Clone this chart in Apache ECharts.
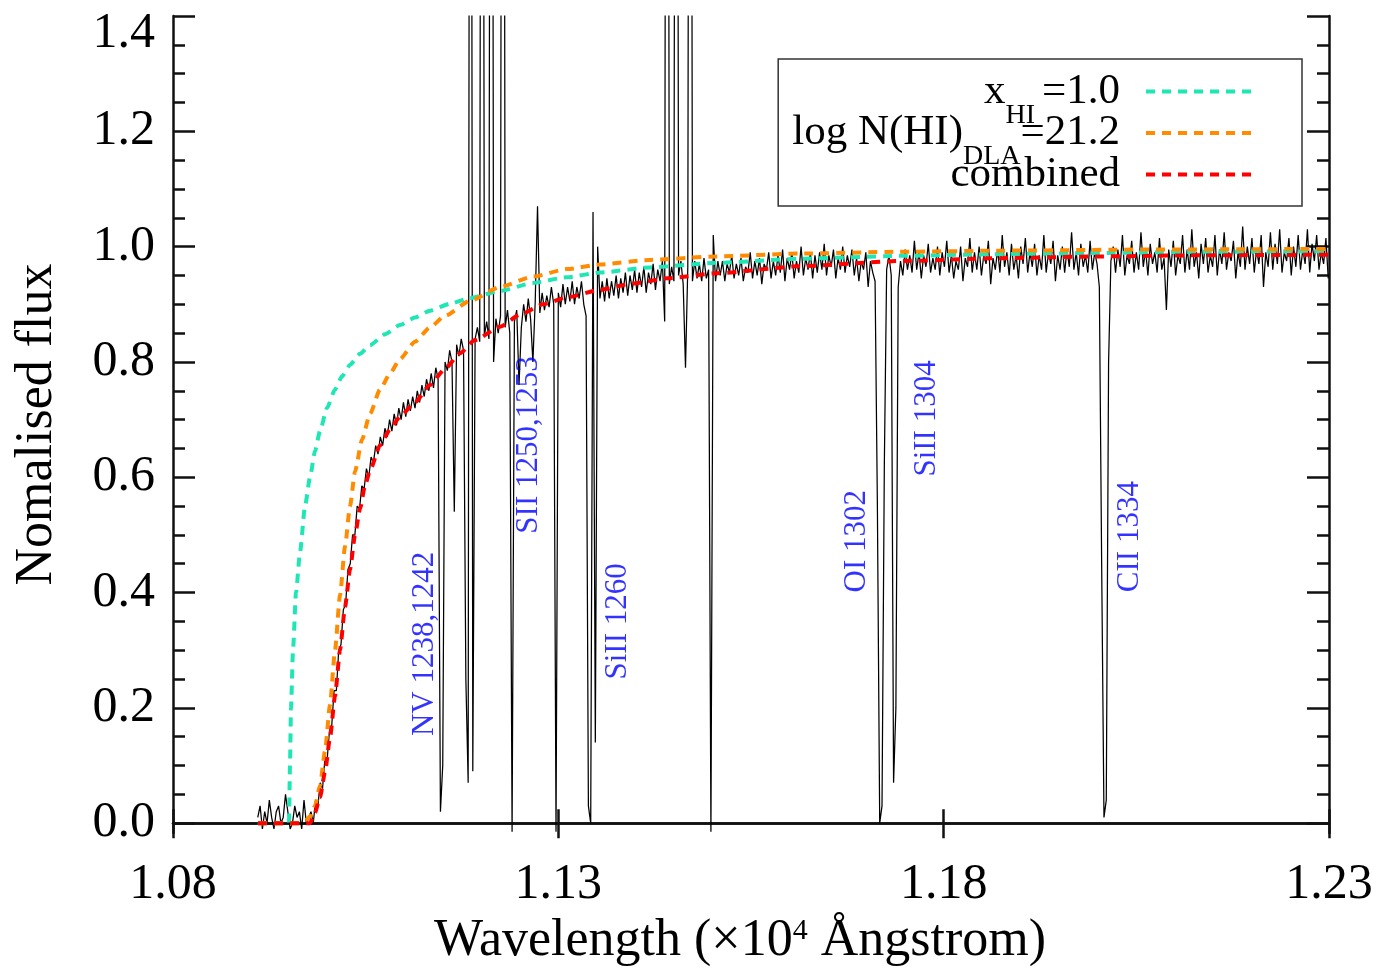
<!DOCTYPE html>
<html>
<head>
<meta charset="utf-8">
<title>Nomalised flux</title>
<script src="https://cdn.jsdelivr.net/npm/echarts@6/dist/echarts.min.js"></script>
<style>
  html, body { margin: 0; padding: 0; background: #ffffff; }
  #chart { width: 1379px; height: 972px; }
</style>
</head>
<body>
<div id="chart"></div>
<script>
const SERIF = '"Liberation Serif", "Times New Roman", serif';

// Observed spectrum: normalised flux on a uniform wavelength grid (units of 1e4 Angstrom)
const WAVE_START = 1.0910;
const WAVE_STEP = 0.0003;
const FLUX = [
  0.01, 0.03, -0.01, 0.02, 0.00, 0.04, 0.01, -0.01, 0.02, 0.03,
  0.00, 0.01, 0.05, 0.02, -0.01, 0.00, 0.03, 0.01, 0.02, -0.01,
  0.04, 0.00, 0.01, 0.02, 0.00, 0.04, 0.03, 0.07, 0.06, 0.11,
  0.11, 0.16, 0.17, 0.23, 0.23, 0.30, 0.31, 0.37, 0.38, 0.44,
  0.45, 0.50, 0.50, 0.55, 0.545, 0.585, 0.58, 0.615, 0.60, 0.635,
  0.625, 0.655, 0.64, 0.67, 0.655, 0.685, 0.67, 0.70, 0.68, 0.71,
  0.69, 0.72, 0.70, 0.73, 0.705, 0.735, 0.715, 0.74, 0.72, 0.75,
  0.73, 0.76, 0.74, 0.77, 0.75, 0.78, 0.755, 0.79, 0.77, 0.02,
  0.10, 0.80, 0.785, 0.82, 0.80, 0.54, 0.83, 0.81, 0.84, 0.82,
  0.25, 0.07, 3.5, 0.09, 0.84, 0.86, 0.835, 3.5, 0.845, 0.87,
  0.84, 3.5, 0.80, 0.875, 0.85, 0.88, 3.5, 0.86, 0.89, 0.85,
  -0.015, 0.87, 0.89, 0.76, 0.86, 0.90, 0.87, 0.91, 0.875, 0.80,
  0.905, 1.07, 0.885, 0.92, 0.89, 0.915, 0.895, 0.93, 0.90, -0.015,
  0.92, 0.895, 0.935, 0.90, 0.93, 0.905, 0.94, 0.90, 0.93, 0.91,
  0.94, 0.90, 0.88, 0.03, 0.00, 1.06, 0.14, 1.00, 0.91, 0.94,
  0.905, 0.945, 0.91, 0.94, 0.915, 0.95, 0.91, 0.945, 0.92, 0.955,
  0.915, 0.95, 0.925, 0.96, 0.92, 0.955, 0.93, 0.965, 0.92, 0.955,
  0.935, 0.97, 0.925, 0.96, 0.94, 0.975, 0.87, 3.5, 0.935, 0.965,
  0.94, 3.5, 0.95, 0.975, 0.935, 0.79, 0.965, 3.5, 0.94, 0.975,
  0.945, 0.97, 0.94, 0.98, 0.945, 0.96, -0.015, 1.02, 0.94, 0.975,
  0.95, 0.975, 0.94, 0.97, 0.955, 0.985, 0.945, 0.97, 0.95, 0.98,
  0.94, 0.965, 0.955, 0.99, 0.945, 0.975, 0.95, 0.98, 0.935, 0.97,
  0.96, 0.99, 0.945, 0.975, 0.95, 0.985, 0.955, 0.995, 0.94, 0.98,
  0.96, 0.99, 0.945, 0.975, 0.955, 1.00, 0.95, 0.98, 0.96, 0.99,
  0.945, 0.985, 0.955, 0.99, 0.96, 1.005, 0.95, 0.985, 0.965, 0.995,
  0.945, 0.98, 0.96, 1.00, 0.955, 0.985, 0.965, 0.995, 0.95, 0.98,
  0.94, 0.975, 0.96, 0.99, 0.93, 0.975, 0.955, 0.94, 0.55, 0.00,
  0.03, 0.62, 0.96, 0.985, 0.95, 0.07, 0.20, 0.93, 0.975, 0.95,
  0.995, 0.96, 0.985, 0.955, 1.01, 0.96, 0.99, 0.945, 0.985, 0.965,
  1.005, 0.955, 0.98, 0.96, 1.00, 0.95, 0.99, 0.965, 1.01, 0.955,
  0.985, 0.945, 0.975, 0.96, 1.00, 0.94, 0.98, 0.965, 1.015, 0.955,
  0.99, 0.96, 1.00, 0.95, 0.985, 0.97, 1.01, 0.935, 0.98, 0.96,
  0.995, 0.955, 1.02, 0.965, 0.99, 0.95, 1.005, 0.96, 0.985, 0.945,
  1.00, 0.97, 1.015, 0.955, 0.99, 0.965, 1.005, 0.95, 0.985, 0.96,
  1.02, 0.955, 0.99, 0.97, 1.01, 0.94, 0.985, 0.96, 1.00, 0.955,
  0.995, 0.965, 1.025, 0.96, 0.99, 0.95, 1.005, 0.965, 0.985, 0.955,
  1.01, 0.96, 0.99, 0.97, 0.93, 0.45, 0.01, 0.04, 0.80, 0.975,
  1.00, 0.955, 0.995, 0.965, 1.02, 0.95, 0.985, 0.97, 1.01, 0.955,
  0.99, 0.96, 1.025, 0.965, 0.995, 0.95, 1.005, 0.97, 0.99, 0.955,
  1.015, 0.96, 0.98, 0.89, 0.995, 0.965, 1.01, 0.95, 0.985, 0.97,
  1.02, 0.955, 0.995, 0.96, 1.03, 0.965, 0.99, 0.945, 1.005, 0.97,
  1.015, 0.955, 0.985, 0.965, 1.02, 0.95, 0.995, 0.97, 1.025, 0.96,
  0.99, 0.975, 1.01, 0.945, 0.99, 0.965, 1.035, 0.96, 1.00, 0.97,
  1.015, 0.955, 0.995, 0.97, 1.02, 0.93, 0.99, 0.965, 1.025, 0.96,
  1.005, 0.97, 1.03, 0.955, 0.99, 0.975, 1.015, 0.95, 1.00, 0.965,
  1.02, 0.96, 0.995, 0.97, 1.03, 0.955, 1.005, 0.975, 1.02, 0.96,
  0.99, 0.97, 1.015, 0.945
];

// Model: fully neutral IGM, x_HI = 1.0
const XHI_WAVE = [1.0910, 1.09505, 1.09518, 1.09531, 1.09557, 1.09596, 1.09648, 1.09713, 1.09778, 1.09842,
  1.09907, 1.09998, 1.10102, 1.10193, 1.10297, 1.10426, 1.10556, 1.10751, 1.10945, 1.11140,
  1.11335, 1.11594, 1.11854, 1.12243, 1.12671, 1.13112, 1.13540, 1.14189, 1.15059, 1.16136,
  1.17433, 1.18731, 1.20028, 1.21326, 1.23000];
const XHI_FLUX = [0.0, 0.0, 0.10, 0.20, 0.30, 0.40, 0.47, 0.55, 0.60, 0.645,
  0.68, 0.72, 0.752, 0.775, 0.795, 0.814, 0.829, 0.848, 0.864, 0.877,
  0.889, 0.901, 0.911, 0.923, 0.937, 0.947, 0.955, 0.964, 0.972, 0.979,
  0.984, 0.987, 0.989, 0.991, 0.992];

// Model: damped Lyman-alpha absorber, log N(HI) = 21.2
const DLA_WAVE = [1.09103, 1.09648, 1.09726, 1.09778, 1.09842, 1.09907, 1.09972, 1.10037, 1.10102, 1.10167,
  1.10232, 1.10297, 1.10362, 1.10452, 1.10556, 1.10686, 1.10816, 1.10945, 1.11140, 1.11335,
  1.11529, 1.11854, 1.12243, 1.12671, 1.13112, 1.13540, 1.14189, 1.15059, 1.16136, 1.17433,
  1.18731, 1.20677, 1.23000];
const DLA_FLUX = [0.0, 0.0, 0.005, 0.012, 0.03, 0.065, 0.125, 0.205, 0.30, 0.395,
  0.48, 0.55, 0.61, 0.665, 0.71, 0.752, 0.78, 0.805, 0.835, 0.86,
  0.88, 0.906, 0.93, 0.948, 0.961, 0.969, 0.977, 0.983, 0.988, 0.991,
  0.993, 0.995, 0.996];

// Model: both absorbers combined
const COMB_WAVE = [1.09103, 1.09778, 1.09842, 1.09907, 1.09972, 1.10037, 1.10102, 1.10167, 1.10232, 1.10297,
  1.10362, 1.10426, 1.10491, 1.10556, 1.10686, 1.10816, 1.10945, 1.11140, 1.11335, 1.11529,
  1.11724, 1.11918, 1.12243, 1.12502, 1.12801, 1.13112, 1.13540, 1.13969, 1.14410, 1.15059,
  1.16136, 1.17433, 1.18731, 1.20028, 1.21326, 1.23000];
const COMB_FLUX = [0.0, 0.0, 0.018, 0.045, 0.088, 0.148, 0.22, 0.30, 0.375, 0.44,
  0.50, 0.545, 0.585, 0.612, 0.655, 0.683, 0.705, 0.73, 0.76, 0.788,
  0.815, 0.838, 0.861, 0.882, 0.90, 0.912, 0.925, 0.936, 0.945, 0.954,
  0.966, 0.975, 0.98, 0.983, 0.985, 0.986];

// Metal absorption line identifications (text centre in data coordinates)
const LINE_NAMES = ['NV 1238,1242', 'SII 1250,1253', 'SiII 1260', 'OI 1302', 'SiII 1304', 'CII 1334'];
const LINE_WAVE = [1.1127, 1.1262, 1.1377, 1.1688, 1.1778, 1.2042];
const LINE_YPOS = [0.311, 0.656, 0.350, 0.489, 0.702, 0.497];

// Axis ticks
const X_RANGE = [1.08, 1.23];
const Y_RANGE = [-0.017, 1.4];
const X_TICKS = [1.08, 1.13, 1.18, 1.23];
const Y_TICKS = [0.0, 0.2, 0.4, 0.6, 0.8, 1.0, 1.2, 1.4];
const Y_MINOR = [0.05, 0.10, 0.15, 0.25, 0.30, 0.35, 0.45, 0.50, 0.55, 0.65, 0.70, 0.75,
  0.85, 0.90, 0.95, 1.05, 1.10, 1.15, 1.25, 1.30, 1.35];

const LEGEND_TEXT = {
  xhi: '{m|x}{s|HI }{m|=1.0}',
  dla: '{m|log N(HI)}{s|DLA}{m|=21.2}',
  comb: '{m|combined}'
};

const pairs = (xs, ys) => xs.map((x, i) => [x, ys[i]]);
const spectrum = FLUX.map((f, i) => [WAVE_START + i * WAVE_STEP, f]);

const FRAME = { color: '#111111', width: 2.5 };

function xAxisDef(position, tickLen, withLabels) {
  return {
    type: 'value', position, min: X_RANGE[0], max: X_RANGE[1],
    axisLine: { show: true, lineStyle: FRAME },
    axisTick: { show: true, inside: true, length: tickLen, customValues: X_TICKS, lineStyle: FRAME },
    axisLabel: withLabels ? {
      show: true, customValues: X_TICKS, formatter: v => Number(v).toFixed(2),
      fontFamily: SERIF, fontSize: 50, color: '#000', margin: 27
    } : { show: false },
    splitLine: { show: false }
  };
}

function yAxisDef(position, ticks, tickLen, withLabels, withLine) {
  return {
    type: 'value', position, min: Y_RANGE[0], max: Y_RANGE[1],
    axisLine: { show: withLine, lineStyle: FRAME },
    axisTick: { show: true, inside: true, length: tickLen, customValues: ticks, lineStyle: FRAME },
    axisLabel: withLabels ? {
      show: true, customValues: ticks, formatter: v => Number(v).toFixed(1),
      fontFamily: SERIF, fontSize: 50, lineHeight: 36, color: '#000', margin: 18,
      verticalAlignMaxLabel: 'top'
    } : { show: false },
    splitLine: { show: false }
  };
}

const xMain = xAxisDef('bottom', 14, true);
xMain.name = '{a|Wavelength (\u00d710}{s|4}{a| \u00c5ngstrom)}';
xMain.nameLocation = 'middle';
xMain.nameGap = 82;
xMain.nameTextStyle = {
  fontFamily: SERIF, fontSize: 52, color: '#000', padding: [0, 22, 0, 0],
  rich: {
    a: { fontFamily: SERIF, fontSize: 52, lineHeight: 50, color: '#000' },
    s: { fontFamily: SERIF, fontSize: 30, verticalAlign: 'top', color: '#000' }
  }
};

const yMain = yAxisDef('left', Y_TICKS, 22, true, true);
yMain.name = 'Nomalised flux';
yMain.nameLocation = 'middle';
yMain.nameGap = 110;
yMain.nameTextStyle = { fontFamily: SERIF, fontSize: 52, color: '#000' };

const dashed = [9, 7];

const option = {
  animation: false,
  backgroundColor: '#ffffff',
  grid: { left: 173, right: 50, top: 16, bottom: 139, containLabel: false },
  xAxis: [xMain, xAxisDef('top', 15, false)],
  yAxis: [
    yMain,
    yAxisDef('left', Y_MINOR, 12, false, false),
    yAxisDef('right', Y_TICKS, 22, false, true),
    yAxisDef('right', Y_MINOR, 12, false, false)
  ],
  legend: {
    orient: 'vertical', right: 77, top: 59, align: 'right',
    data: ['xhi', 'dla', 'comb'],
    itemWidth: 110, itemHeight: 14, itemGap: -18,
    padding: [11, 44, 10, 14],
    borderColor: '#333333', borderWidth: 1.5, backgroundColor: '#ffffff',
    selectedMode: false,
    itemStyle: { opacity: 0 },
    lineStyle: { width: 4 },
    formatter: name => LEGEND_TEXT[name],
    textStyle: {
      fontFamily: SERIF, fontSize: 43, color: '#000', padding: [0, 21, 0, 0],
      rich: {
        m: { fontFamily: SERIF, fontSize: 43, lineHeight: 76, color: '#000' },
        s: { fontFamily: SERIF, fontSize: 28, verticalAlign: 'bottom', color: '#000' }
      }
    }
  },
  series: [
    {
      name: 'spectrum', type: 'line', data: spectrum, showSymbol: false, silent: true,
      lineStyle: { color: '#000000', width: 1.25 }, z: 2
    },
    {
      name: 'xhi', type: 'line', data: pairs(XHI_WAVE, XHI_FLUX), showSymbol: false, symbol: 'none',
      smooth: 0.2, smoothMonotone: 'x', color: '#1fe6b5',
      lineStyle: { color: '#1fe6b5', width: 4, type: dashed }, z: 3
    },
    {
      name: 'dla', type: 'line', data: pairs(DLA_WAVE, DLA_FLUX), showSymbol: false, symbol: 'none',
      smooth: 0.2, smoothMonotone: 'x', color: '#ff8c00',
      lineStyle: { color: '#ff8c00', width: 4, type: dashed }, z: 3
    },
    {
      name: 'comb', type: 'line', data: pairs(COMB_WAVE, COMB_FLUX), showSymbol: false, symbol: 'none',
      smooth: 0.2, smoothMonotone: 'x', color: '#ff0000',
      lineStyle: { color: '#ff0000', width: 4, type: dashed }, z: 4
    },
    {
      name: 'lines', type: 'scatter', silent: true, symbolSize: 0.1,
      itemStyle: { color: 'rgba(0,0,0,0)' },
      data: LINE_NAMES.map((n, i) => ({ name: n, value: [LINE_WAVE[i], LINE_YPOS[i]] })),
      label: {
        show: true, position: 'inside', rotate: 90, formatter: p => p.name,
        fontFamily: SERIF, fontSize: 31, color: '#0000ff', align: 'center', verticalAlign: 'middle'
      },
      z: 5
    }
  ]
};

const chart = echarts.init(document.getElementById('chart'), null, { renderer: 'canvas' });
chart.setOption(option);
</script>
</body>
</html>
